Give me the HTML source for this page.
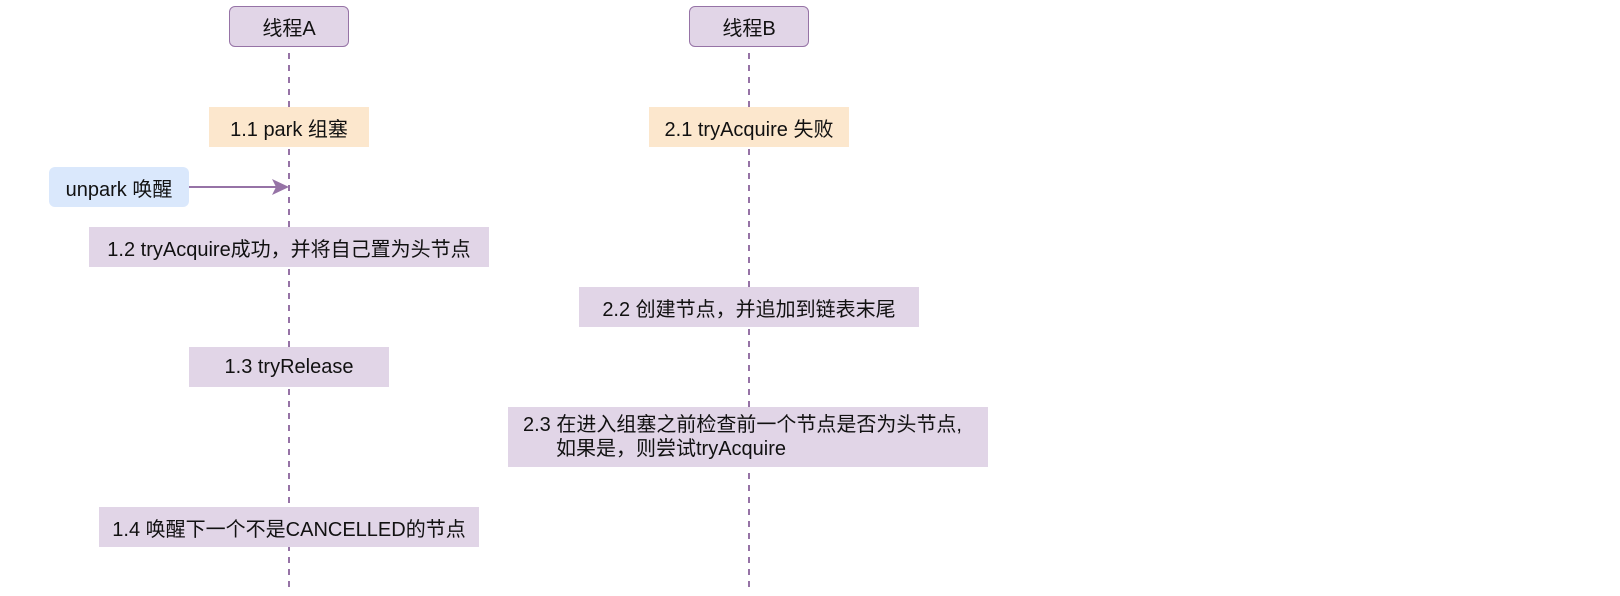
<!DOCTYPE html>
<html><head><meta charset="utf-8"><style>
body{margin:0;width:1620px;height:596px;background:#fff;position:relative;overflow:hidden;font-family:"Liberation Sans","Noto Sans CJK SC",sans-serif;font-size:20px;color:#111}
.b{position:absolute;display:flex;align-items:center;justify-content:center;box-sizing:border-box;white-space:nowrap}
.p{background:#e1d5e7}.o{background:#fce7cd}
.h{background:#e1d5e7;border:1.5px solid #9673a6;border-radius:6px}
.u{background:#dae8fc;border-radius:6px}
</style></head><body>
<svg width="1620" height="596" style="position:absolute;left:0;top:0">
<line x1="289" y1="53" x2="289" y2="590" stroke="#9673a6" stroke-width="2" stroke-dasharray="6 6"/>
<line x1="749" y1="53" x2="749" y2="590" stroke="#9673a6" stroke-width="2" stroke-dasharray="6 6"/>
<line x1="189" y1="187" x2="280" y2="187" stroke="#9673a6" stroke-width="2"/>
<polygon points="289,187 272,179 276,187 272,195" fill="#9673a6"/>
</svg>
<div class="b h" style="left:229px;top:6px;width:120px;height:41px">线程A</div>
<div class="b h" style="left:689px;top:6px;width:120px;height:41px">线程B</div>
<div class="b o" style="left:209px;top:107px;width:160px;height:40px">1.1 park 组塞</div>
<div class="b o" style="left:649px;top:107px;width:200px;height:40px">2.1 tryAcquire 失败</div>
<div class="b u" style="left:49px;top:167px;width:140px;height:40px">unpark 唤醒</div>
<div class="b p" style="left:89px;top:227px;width:400px;height:40px">1.2 tryAcquire成功，并将自己置为头节点</div>
<div class="b p" style="left:579px;top:287px;width:340px;height:40px">2.2 创建节点，并追加到链表末尾</div>
<div class="b p" style="left:189px;top:347px;width:200px;height:40px">1.3 tryRelease</div>
<div class="b p" style="left:508px;top:407px;width:480px;height:60px;display:block;text-align:left;padding:6px 0 0 15px;line-height:24px">2.3 在进入组塞之前检查前一个节点是否为头节点,<br><span style="padding-left:33px">如果是，则尝试tryAcquire</span></div>
<div class="b p" style="left:99px;top:507px;width:380px;height:40px">1.4 唤醒下一个不是CANCELLED的节点</div>
</body></html>
